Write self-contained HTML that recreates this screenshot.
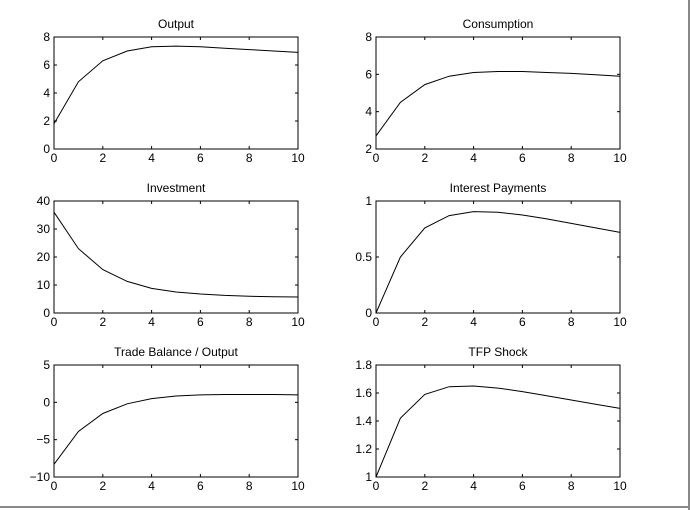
<!DOCTYPE html>
<html><head><meta charset="utf-8"><style>
body{margin:0;background:#fff;}
svg{display:block;font-family:"Liberation Sans",sans-serif;}
</style></head><body>
<svg id="fig" width="690" height="510"></svg>
<script>
const xVals=[0,1,2,3,4,5,6,7,8,9,10];
const xTicks=[0,2,4,6,8,10];
const titles=["Output","Consumption","Investment","Interest Payments","Trade Balance / Output","TFP Shock"];
const outputVals=[1.8,4.8,6.3,7.0,7.3,7.35,7.3,7.2,7.1,7.0,6.9];
const consumptionVals=[2.7,4.5,5.45,5.9,6.1,6.15,6.15,6.1,6.05,5.98,5.9];
const investmentVals=[36,23,15.5,11.3,8.8,7.5,6.8,6.3,6.0,5.8,5.7];
const interestVals=[0,0.5,0.76,0.87,0.905,0.9,0.875,0.84,0.8,0.76,0.72];
const tradeVals=[-8.3,-3.9,-1.5,-0.2,0.5,0.85,1.0,1.05,1.05,1.05,1.0];
const tfpVals=[1.0,1.42,1.59,1.645,1.65,1.635,1.61,1.58,1.55,1.52,1.49];
const yTicksList=[[0,2,4,6,8],[2,4,6,8],[0,10,20,30,40],[0,0.5,1],[-10,-5,0,5],[1,1.2,1.4,1.6,1.8]];
const yTickLabels=[["0","2","4","6","8"],["2","4","6","8"],["0","10","20","30","40"],["0","0.5","1"],["\u221210","\u22125","0","5"],["1","1.2","1.4","1.6","1.8"]];
const series=[outputVals,consumptionVals,investmentVals,interestVals,tradeVals,tfpVals];
const NS="http://www.w3.org/2000/svg";
const svg=document.getElementById("fig");
function mk(tag,attrs,parent){const e=document.createElementNS(NS,tag);for(const k in attrs)e.setAttribute(k,attrs[k]);(parent||svg).appendChild(e);return e;}
const lefts=[54,376], tops=[37,201,365], W=244, H=112;
const slugs=["output","consumption","investment","interest-payments","trade-balance","tfp-shock"];
for(let i=0;i<6;i++){
  const x0=lefts[i%2], y0=tops[Math.floor(i/2)];
  const yt=yTicksList[i], ymin=yt[0], ymax=yt[yt.length-1];
  const sx=v=>x0+(v-0)/(10-0)*W;
  const sy=v=>y0+H-(v-ymin)/(ymax-ymin)*H;
  const g=mk("g",{});
  
  
  const r=mk("rect",{x:x0,y:y0,width:W,height:H,fill:"#fff",stroke:"#000","stroke-width":1},g);
  
  
  const t=mk("text",{x:x0+W/2,y:y0-9,"text-anchor":"middle","font-size":12},g);
  t.textContent=titles[i];
  
  
  xTicks.forEach(v=>{
    const X=sx(v);
    mk("line",{x1:X,x2:X,y1:y0+H,y2:y0+H-3,stroke:"#000"},g);
    mk("line",{x1:X,x2:X,y1:y0,y2:y0+3,stroke:"#000"},g);
    const l=mk("text",{x:X,y:y0+H+13,"text-anchor":"middle","font-size":12},g);
    l.textContent=String(v);
    
    
  });
  yt.forEach((v,j)=>{
    const Y=sy(v);
    mk("line",{x1:x0,x2:x0+3,y1:Y,y2:Y,stroke:"#000"},g);
    mk("line",{x1:x0+W,x2:x0+W-3,y1:Y,y2:Y,stroke:"#000"},g);
    const l=mk("text",{x:x0-4,y:Y+4,"text-anchor":"end","font-size":12},g);
    l.textContent=yTickLabels[i][j];
    
    
  });
  const pts=series[i].map((v,k)=>sx(xVals[k]).toFixed(1)+","+sy(v).toFixed(1)).join(" ");
  const p=mk("polyline",{points:pts,fill:"none",stroke:"#000","stroke-width":1},g);
  
  
}
const b1=mk("line",{x1:0,x2:690,y1:507,y2:507,stroke:"#888","stroke-width":2});


const b2=mk("line",{x1:689,x2:689,y1:0,y2:510,stroke:"#888","stroke-width":2});


</script>
</body></html>
